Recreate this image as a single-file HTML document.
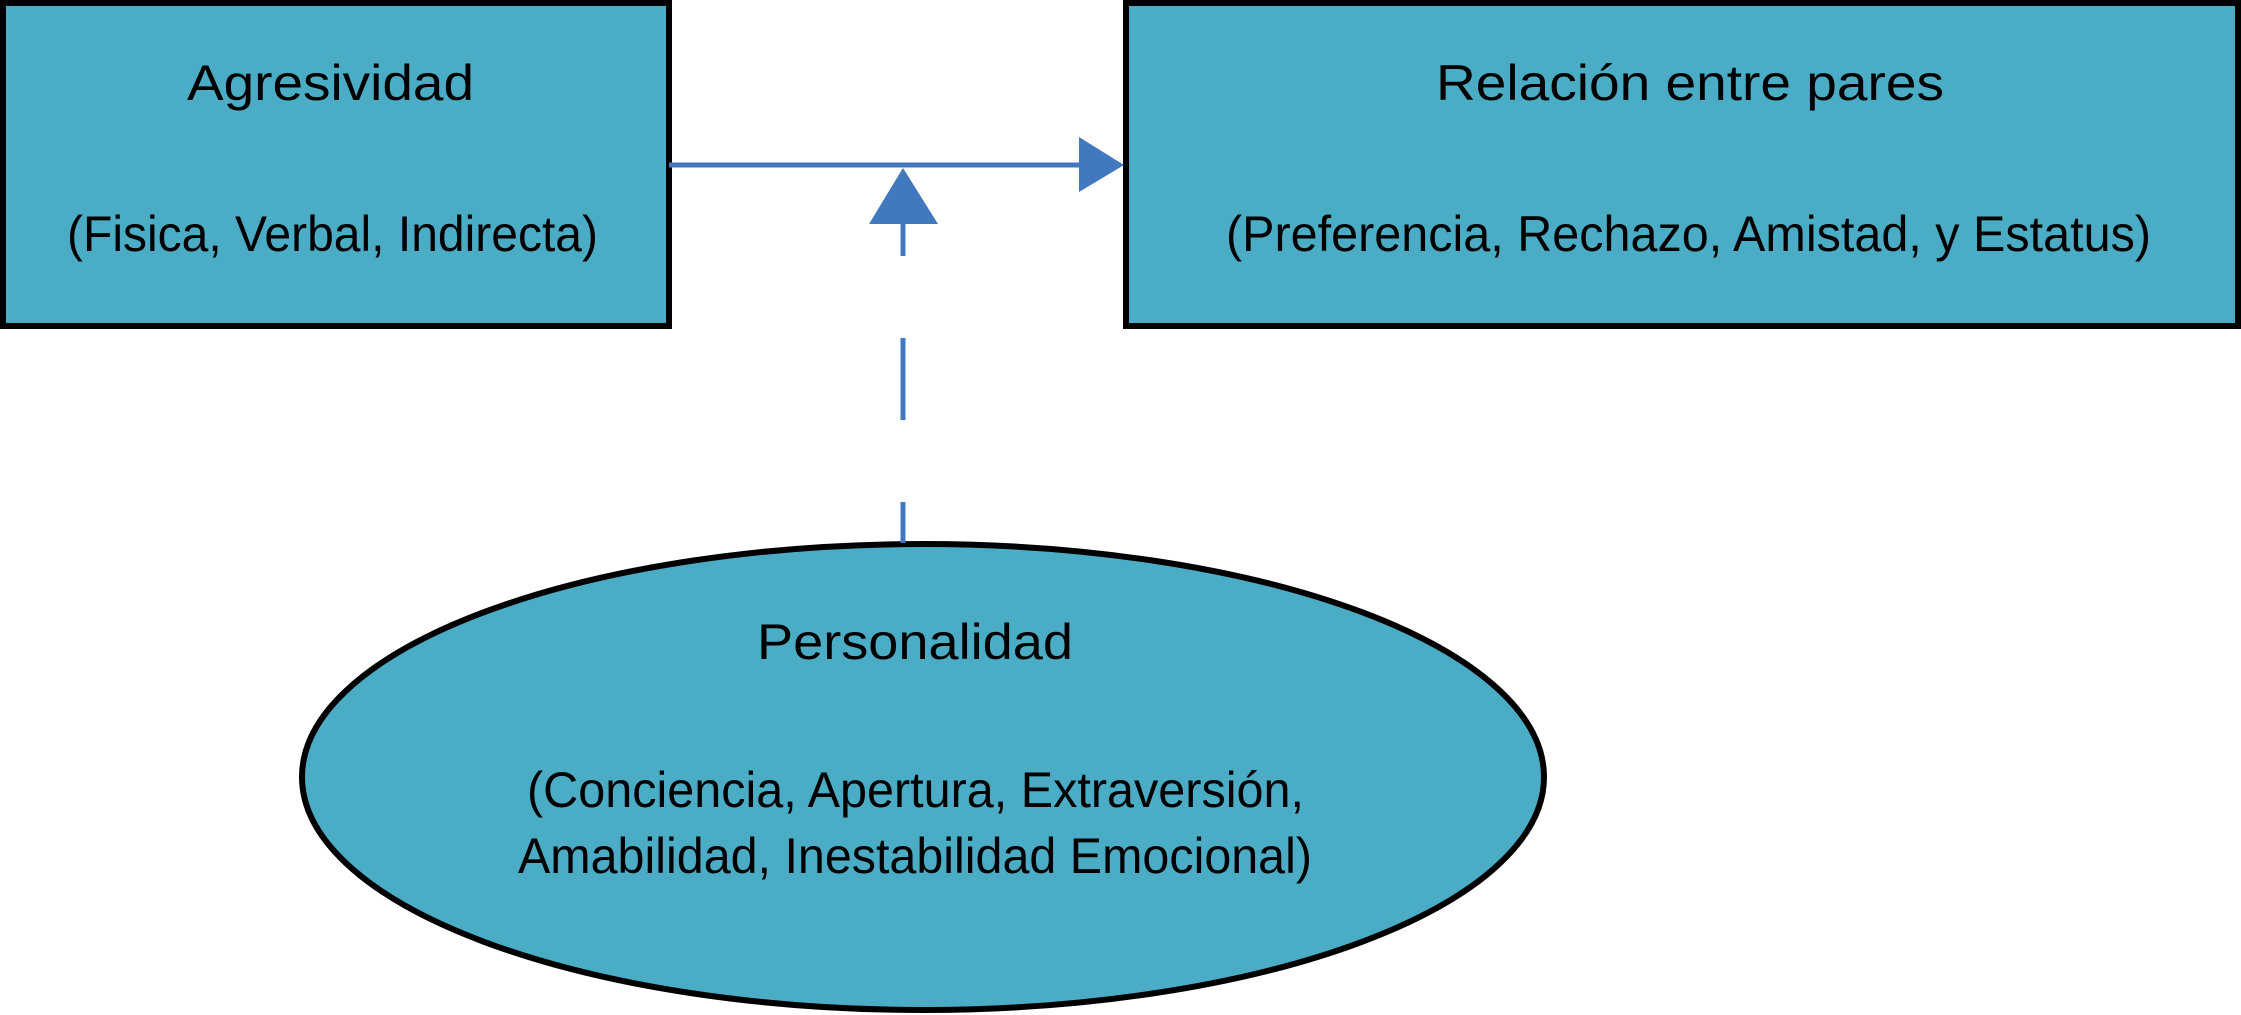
<!DOCTYPE html>
<html><head><meta charset="utf-8"><style>html,body{margin:0;padding:0;background:#fff;}svg{display:block}</style></head>
<body>
<svg width="2241" height="1015" viewBox="0 0 2241 1015" xmlns="http://www.w3.org/2000/svg" font-family="'Liberation Sans', sans-serif" fill="#000">
<rect x="3" y="3" width="666" height="323" fill="#4BACC6" stroke="#000" stroke-width="6"/>
<rect x="1126" y="3" width="2230" height="323" fill="#4BACC6" stroke="#000" stroke-width="6"/>
<rect x="1126" y="3" width="1112" height="323" fill="#4BACC6" stroke="#000" stroke-width="6"/>
<ellipse cx="923" cy="777" rx="621" ry="233" fill="#4BACC6" stroke="#000" stroke-width="6"/>
<line x1="669" y1="165" x2="1080" y2="165" stroke="#4178BE" stroke-width="5"/>
<polygon points="1079,137 1124,165 1079,192" fill="#4178BE"/>
<polygon points="903,168 869,224 938,224" fill="#4178BE"/>
<g stroke="#4178BE" stroke-width="5">
<line x1="903" y1="224" x2="903" y2="256"/>
<line x1="903" y1="338" x2="903" y2="420"/>
<line x1="903" y1="502" x2="903" y2="543"/>
</g>
<g font-size="50">
<text x="187" y="100" textLength="287" lengthAdjust="spacingAndGlyphs">Agresividad</text>
<text x="67" y="251" textLength="531" lengthAdjust="spacingAndGlyphs">(Fisica, Verbal, Indirecta)</text>
<text x="1436" y="100" textLength="508" lengthAdjust="spacingAndGlyphs">Relación entre pares</text>
<text x="1226" y="251" textLength="925" lengthAdjust="spacingAndGlyphs">(Preferencia, Rechazo, Amistad, y Estatus)</text>
<text x="757" y="659" textLength="316" lengthAdjust="spacingAndGlyphs">Personalidad</text>
<text x="527" y="807" textLength="777" lengthAdjust="spacingAndGlyphs">(Conciencia, Apertura, Extraversión,</text>
<text x="518" y="873" textLength="794" lengthAdjust="spacingAndGlyphs">Amabilidad, Inestabilidad Emocional)</text>
</g>
</svg>
</body></html>
